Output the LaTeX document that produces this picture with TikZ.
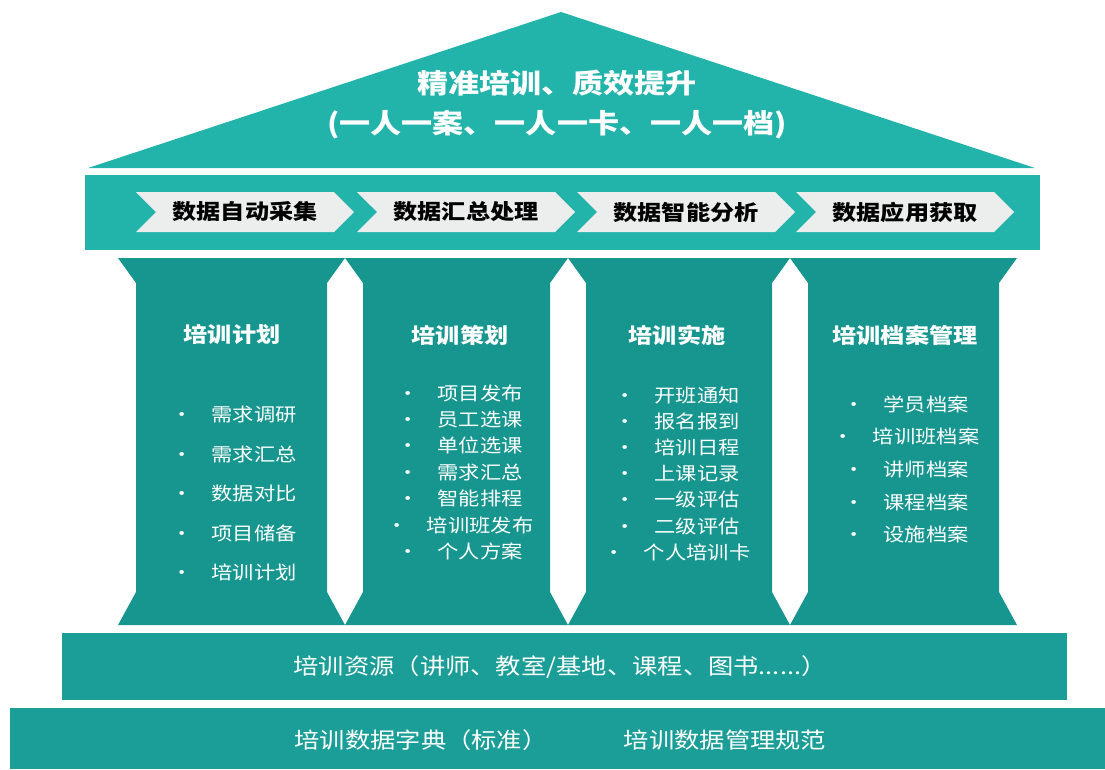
\documentclass[tikz,border=0pt]{standalone}
\usepackage{fontspec}
\setmainfont{Noto Sans CJK SC}[FakeStretch=1.15]
\usepackage{tikz}
\usetikzlibrary{shapes.symbols}
\definecolor{roofTeal}{RGB}{34,179,171}
\definecolor{pillarTeal}{RGB}{23,150,144}
\definecolor{baseTeal}{RGB}{27,158,151}
\definecolor{chevGray}{RGB}{236,237,237}

\begin{document}
\begin{tikzpicture}[x=1pt, y=-1pt]%
  \tikzset{stage/.style={signal, signal to=east, signal from=west, fill=chevGray, draw=none, minimum width=218pt, minimum height=40pt, inner sep=0pt, text=black, font=\bfseries\fontsize{21}{21}\selectfont}}
  \tikzset{pillar title/.style={text=white, font=\bfseries\fontsize{21}{21}\selectfont}}
  \tikzset{item/.style={text=white, inner sep=0pt, font=\fontsize{18.5}{18.5}\selectfont}}
  \tikzset{base text/.style={text=white, font=\fontsize{22}{22}\selectfont}}

  \useasboundingbox (0,0) rectangle (1105,769);

  \fill[roofTeal] (88,168) -- (561,12) -- (1035,168) -- cycle;
  \node[text=white, align=center, font=\bfseries\fontsize{27}{40}\selectfont] at (557,105) (roof) {精准培训、质效提升\\(一人一案、一人一卡、一人一档)};

  \fill[roofTeal] (85,175) rectangle (1040,250);
  \node[stage] at (245,212) (s1) {数据自动采集};
  \node[stage] at (466,212) (s2) {数据汇总处理};
  \node[stage] at (686,212) (s3) {数据智能分析};
  \node[stage] at (905,212) (s4) {数据应用获取};

  \foreach \xa/\xb in {118/345, 345/568, 568/790, 790/1017}
    \fill[pillarTeal] (\xa,258) -- (\xb,258) -- (\xb-18,283) -- (\xb-18,592) -- (\xb,625) -- (\xa,625) -- (\xa+18,592) -- (\xa+18,283) -- cycle;

  \node[pillar title] at (232,335) (p1) {培训计划};
  \node[pillar title] at (460,335) (p2) {培训策划};
  \node[pillar title] at (677,335) (p3) {培训实施};
  \node[pillar title] at (905,335) (p4) {培训档案管理};

  \foreach \t [count=\i] in {需求调研,需求汇总,数据对比,项目储备,培训计划}
    \node[item] at (234,375+39.5*\i) (a\i) {\textbullet\hspace{19pt}\t};
  \foreach \t [count=\i] in {项目发布,员工选课,单位选课,需求汇总,智能排程,培训班发布,个人方案}
    \node[item] at (460,366.6+26.4*\i) (b\i) {\textbullet\hspace{19pt}\t};
  \foreach \t [count=\i] in {开班通知,报名报到,培训日程,上课记录,一级评估,二级评估,个人培训卡}
    \node[item] at (677,368.8+26.2*\i) (c\i) {\textbullet\hspace{19pt}\t};
  \foreach \t [count=\i] in {学员档案,培训班档案,讲师档案,课程档案,设施档案}
    \node[item] at (906,371.3+32.7*\i) (d\i) {\textbullet\hspace{19pt}\t};

  \fill[baseTeal] (62,633) rectangle (1067,700);
  \node[base text] at (560,667) (res) {培训资源（讲师、教室/基地、课程、图书......）};
  \fill[baseTeal] (10,708) rectangle (1105,769);
  \node[base text] at (421,740) (dict) {培训数据字典（标准）};
  \node[base text] at (725,740) (norm) {培训数据管理规范};
\end{tikzpicture}
\end{document}
